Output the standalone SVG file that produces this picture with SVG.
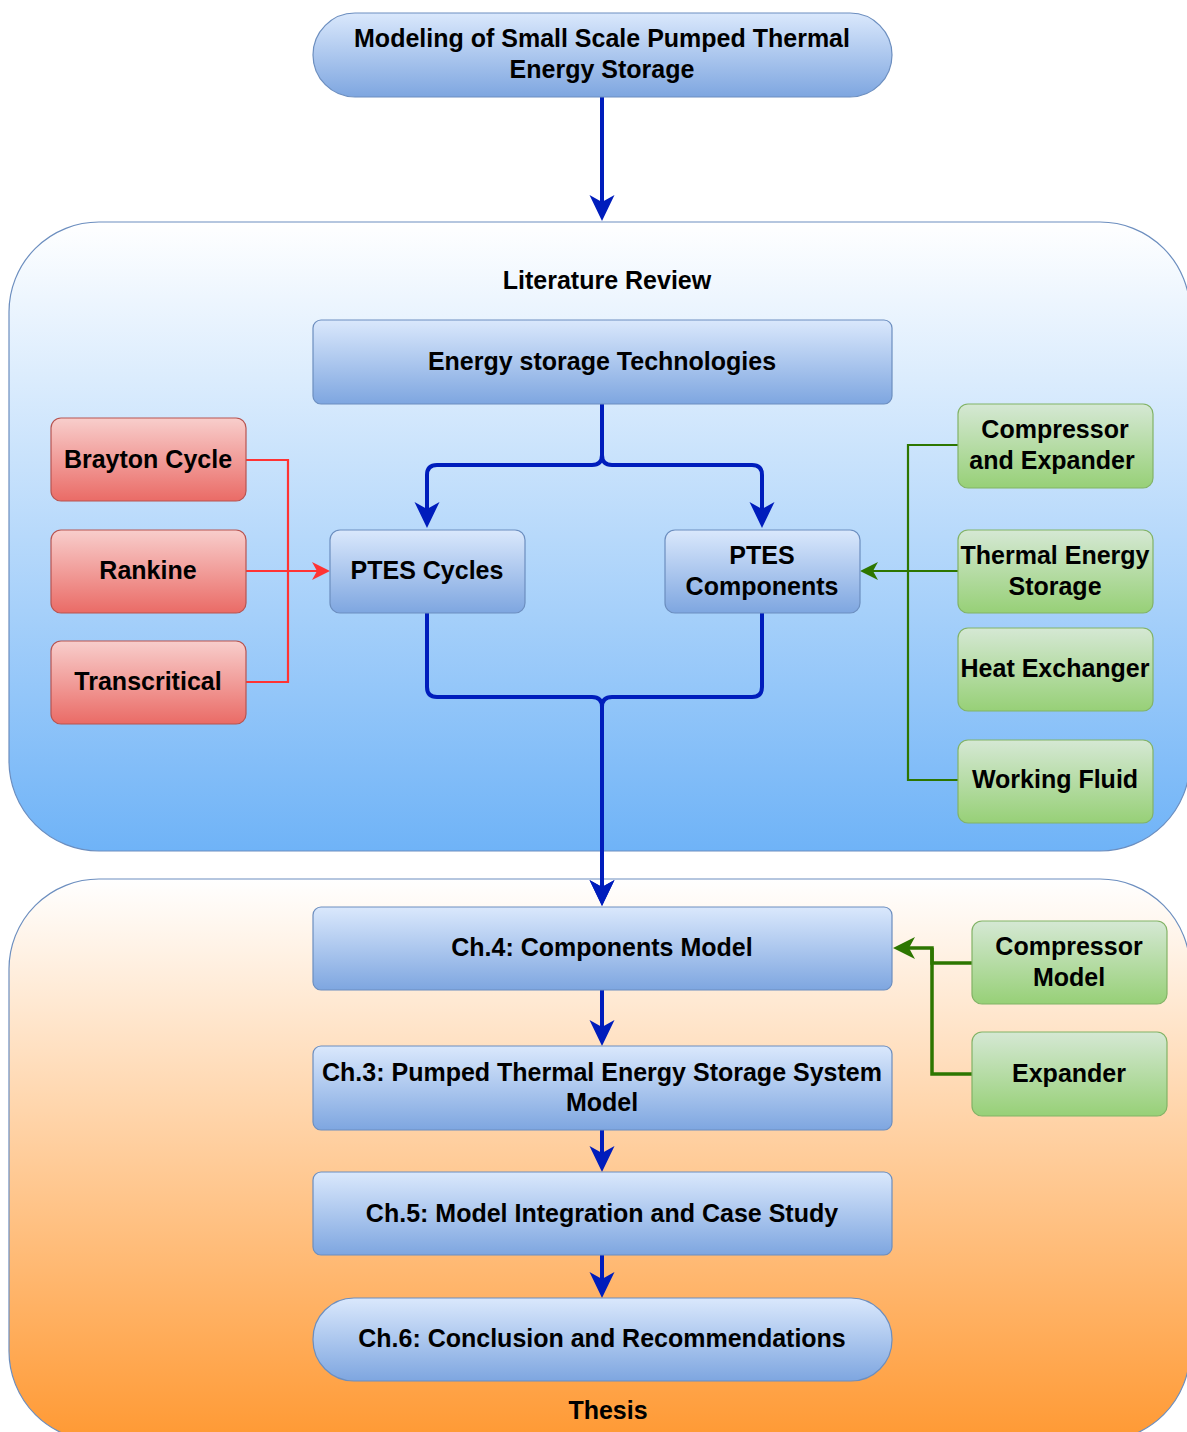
<svg xmlns="http://www.w3.org/2000/svg" width="1187" height="1432" viewBox="0 0 1187 1432">
  <defs>
    <linearGradient id="gBlue" x1="0" y1="0" x2="0" y2="1">
      <stop offset="0" stop-color="#dae8fc"/>
      <stop offset="1" stop-color="#7ea6e0"/>
    </linearGradient>
    <linearGradient id="gRed" x1="0" y1="0" x2="0" y2="1">
      <stop offset="0" stop-color="#f8cecc"/>
      <stop offset="1" stop-color="#ea6b66"/>
    </linearGradient>
    <linearGradient id="gGreen" x1="0" y1="0" x2="0" y2="1">
      <stop offset="0" stop-color="#d5e8d4"/>
      <stop offset="1" stop-color="#97d077"/>
    </linearGradient>
    <linearGradient id="gLit" x1="0" y1="0" x2="0" y2="1">
      <stop offset="0" stop-color="#ffffff"/>
      <stop offset="1" stop-color="#6fb3f7"/>
    </linearGradient>
    <linearGradient id="gThesis" x1="0" y1="0" x2="0" y2="1">
      <stop offset="0" stop-color="#ffffff"/>
      <stop offset="1" stop-color="#ff9933"/>
    </linearGradient>
    <marker id="arrBlue" viewBox="-27 -14 28 28" markerWidth="28" markerHeight="28" refX="-19" refY="0" markerUnits="userSpaceOnUse" orient="auto">
      <path d="M0,0 L-26,-12.5 L-19,0 L-26,12.5 Z" fill="#001dbc"/>
    </marker>
    <marker id="arrRed" viewBox="-19 -10 20 20" markerWidth="20" markerHeight="20" refX="-13" refY="0" markerUnits="userSpaceOnUse" orient="auto">
      <path d="M0,0 L-18,-9 L-13,0 L-18,9 Z" fill="#ff3333"/>
    </marker>
    <marker id="arrGreenS" viewBox="-19 -10 20 20" markerWidth="20" markerHeight="20" refX="-13" refY="0" markerUnits="userSpaceOnUse" orient="auto">
      <path d="M0,0 L-18,-9 L-13,0 L-18,9 Z" fill="#2d7600"/>
    </marker>
    <marker id="arrGreenL" viewBox="-23 -12 24 24" markerWidth="24" markerHeight="24" refX="-16" refY="0" markerUnits="userSpaceOnUse" orient="auto">
      <path d="M0,0 L-22,-11 L-16,0 L-22,11 Z" fill="#2d7600"/>
    </marker>
  </defs>
  <style>
    text { font-family: "Liberation Sans", Arial, Helvetica, sans-serif; font-weight: bold; font-size: 25px; fill: #000000; text-anchor: middle; }
    .blue { fill: url(#gBlue); stroke: #6c8ebf; stroke-width: 1.2; }
    .red { fill: url(#gRed); stroke: #b85450; stroke-width: 1.2; }
    .green { fill: url(#gGreen); stroke: #82b366; stroke-width: 1.2; }
    .cont { stroke: #6c8ebf; stroke-width: 1.2; }
    .eBlue { fill: none; stroke: #001dbc; stroke-width: 4; }
    .eRed { fill: none; stroke: #ff3333; stroke-width: 2.2; }
    .eGreen { fill: none; stroke: #2d7600; stroke-width: 2.2; }
    .eGreenB { fill: none; stroke: #2d7600; stroke-width: 3.5; }
  </style>

  <!-- containers -->
  <g id="literature-review">
    <rect class="cont" x="9" y="222" width="1181" height="629" rx="90" ry="90" fill="url(#gLit)"/>
    <text x="607" y="288.5">Literature Review</text>
  </g>
  <g id="thesis">
    <rect class="cont" x="9" y="879" width="1181" height="562" rx="90" ry="90" fill="url(#gThesis)"/>
    <text x="608" y="1418.5">Thesis</text>
  </g>

  <!-- connectors -->
  <g id="connectors">
    <path class="eBlue" d="M602,97 V202" marker-end="url(#arrBlue)"/>
    <path class="eBlue" d="M602,404 V455 Q602,465 592,465 H437 Q427,465 427,475 V509" marker-end="url(#arrBlue)"/>
    <path class="eBlue" d="M602,404 V455 Q602,465 612,465 H752 Q762,465 762,475 V509" marker-end="url(#arrBlue)"/>
    <path class="eBlue" d="M427,613 V687 Q427,697 437,697 H592 Q602,697 602,707 V887" marker-end="url(#arrBlue)"/>
    <path class="eBlue" d="M762,613 V687 Q762,697 752,697 H612 Q602,697 602,707 V887" marker-end="url(#arrBlue)"/>
    <path class="eBlue" d="M602,990 V1027" marker-end="url(#arrBlue)"/>
    <path class="eBlue" d="M602,1130 V1153" marker-end="url(#arrBlue)"/>
    <path class="eBlue" d="M602,1255 V1279" marker-end="url(#arrBlue)"/>

    <path class="eRed" d="M246,460 H288 V682 H246"/>
    <path class="eRed" d="M246,571 H317" marker-end="url(#arrRed)"/>

    <path class="eGreen" d="M958,445 H908 V780 H958"/>
    <path class="eGreen" d="M958,571 H873" marker-end="url(#arrGreenS)"/>

    <path class="eGreenB" d="M972,963 H932 V948 H909" marker-end="url(#arrGreenL)"/>
    <path class="eGreenB" d="M972,1074 H932 V948"/>
  </g>

  <!-- nodes -->
  <g id="n-title">
    <rect class="blue" x="313" y="13" width="579" height="84" rx="42" ry="42"/>
    <text x="602" y="46.5">Modeling of Small Scale Pumped Thermal</text>
    <text x="602" y="77.5">Energy Storage</text>
  </g>
  <g id="n-energy-storage">
    <rect class="blue" x="313" y="320" width="579" height="84" rx="8" ry="8"/>
    <text x="602" y="369.5">Energy storage Technologies</text>
  </g>
  <g id="n-brayton">
    <rect class="red" x="51" y="418" width="195" height="83" rx="10" ry="10"/>
    <text x="148" y="467.5">Brayton Cycle</text>
  </g>
  <g id="n-rankine">
    <rect class="red" x="51" y="530" width="195" height="83" rx="10" ry="10"/>
    <text x="148" y="578.5">Rankine</text>
  </g>
  <g id="n-transcritical">
    <rect class="red" x="51" y="641" width="195" height="83" rx="10" ry="10"/>
    <text x="148" y="689.5">Transcritical</text>
  </g>
  <g id="n-ptes-cycles">
    <rect class="blue" x="330" y="530" width="195" height="83" rx="10" ry="10"/>
    <text x="427" y="578.5">PTES Cycles</text>
  </g>
  <g id="n-ptes-components">
    <rect class="blue" x="665" y="530" width="195" height="83" rx="10" ry="10"/>
    <text x="762" y="563.5">PTES</text>
    <text x="762" y="594.5">Components</text>
  </g>
  <g id="n-comp-exp">
    <rect class="green" x="958" y="404" width="195" height="84" rx="10" ry="10"/>
    <text x="1055" y="437.5">Compressor</text>
    <text x="1052" y="468.5">and Expander</text>
  </g>
  <g id="n-tes">
    <rect class="green" x="958" y="530" width="195" height="83" rx="10" ry="10"/>
    <text x="1055" y="563.5">Thermal Energy</text>
    <text x="1055" y="594.5">Storage</text>
  </g>
  <g id="n-heat-exchanger">
    <rect class="green" x="958" y="628" width="195" height="83" rx="10" ry="10"/>
    <text x="1055" y="676.5">Heat Exchanger</text>
  </g>
  <g id="n-working-fluid">
    <rect class="green" x="958" y="740" width="195" height="83" rx="10" ry="10"/>
    <text x="1055" y="787.5">Working Fluid</text>
  </g>
  <g id="n-ch4">
    <rect class="blue" x="313" y="907" width="579" height="83" rx="8" ry="8"/>
    <text x="602" y="955.5">Ch.4: Components Model</text>
  </g>
  <g id="n-compressor-model">
    <rect class="green" x="972" y="921" width="195" height="83" rx="10" ry="10"/>
    <text x="1069" y="954.5">Compressor</text>
    <text x="1069" y="985.5">Model</text>
  </g>
  <g id="n-expander">
    <rect class="green" x="972" y="1032" width="195" height="84" rx="10" ry="10"/>
    <text x="1069" y="1081.5">Expander</text>
  </g>
  <g id="n-ch3">
    <rect class="blue" x="313" y="1046" width="579" height="84" rx="8" ry="8"/>
    <text x="602" y="1080.5">Ch.3: Pumped Thermal Energy Storage System</text>
    <text x="602" y="1110.5">Model</text>
  </g>
  <g id="n-ch5">
    <rect class="blue" x="313" y="1172" width="579" height="83" rx="8" ry="8"/>
    <text x="602" y="1221.5">Ch.5: Model Integration and Case Study</text>
  </g>
  <g id="n-ch6">
    <rect class="blue" x="313" y="1298" width="579" height="83" rx="41" ry="41"/>
    <text x="602" y="1346.5">Ch.6: Conclusion and Recommendations</text>
  </g>
</svg>
